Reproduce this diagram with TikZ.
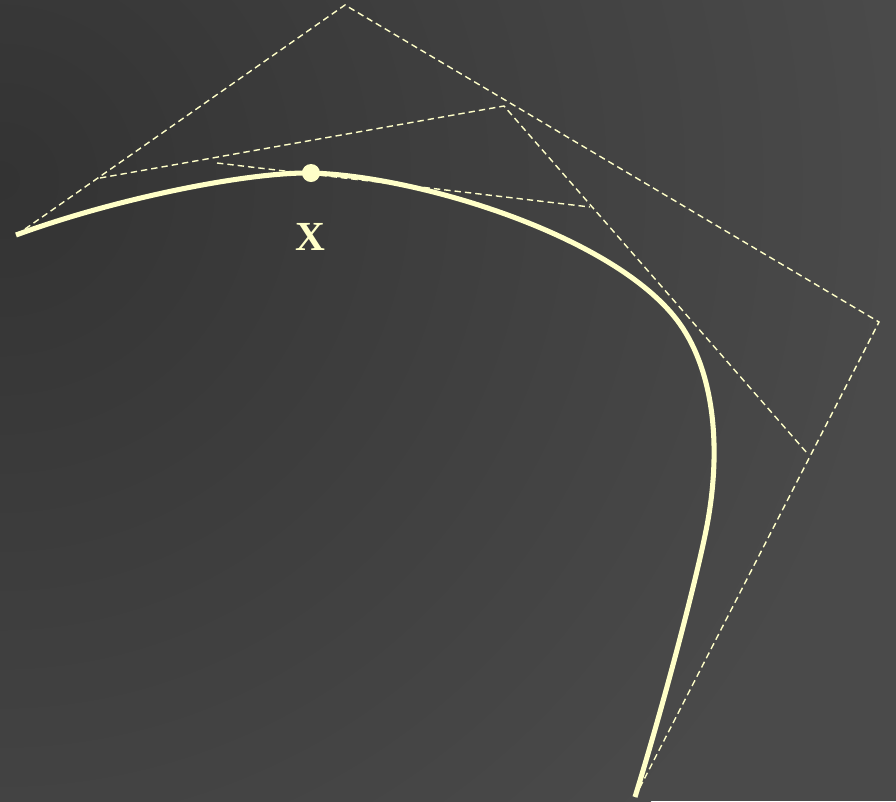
\documentclass[tikz,border=0pt]{standalone}
\usepackage{fontspec}
\setmainfont{Liberation Serif}
\begin{document}
\begin{tikzpicture}[x=0.75pt,y=-0.75pt,
  guide/.style={draw=curvecol, line width=1.05pt, dash pattern=on 4.8pt off 3pt},
  curveline/.style={draw=curvecol, line width=3.8pt},
  lbl/.style={text=curvecol, font=\bfseries\fontsize{31}{31}\selectfont, inner sep=0pt}]
\definecolor{curvecol}{HTML}{FFFFC8}
\definecolor{bgdark}{HTML}{333333}
\definecolor{bglight}{HTML}{4A4A4A}
\fill[bglight] (0,0) rectangle (896,801);
\begin{scope}
\clip (0,0) rectangle (896,801);
\shade[inner color=bgdark, outer color=bglight] (0,180) circle (900);
\end{scope}
\useasboundingbox (0,0) rectangle (896,801);
% control points
\coordinate (P0) at (25,229);
\coordinate (P1) at (345,5);
\coordinate (P2) at (879,322);
\coordinate (P3) at (635,797);
\coordinate (Q0) at (100,178);
\coordinate (Q1) at (504,106);
\coordinate (Q2) at (807,453);
\coordinate (R0) at (217,163);
\coordinate (R1) at (590,207);
\coordinate (X) at (311,173);
\coordinate (S) at (16,235);
\coordinate (E) at (635,797);
% construction lines
\draw[guide] (P0) -- (P1) -- (P2) -- (P3);
\draw[guide] (Q0) -- (Q1) -- (Q2);
\draw[guide] (R0) -- (R1);
% curve
\draw[curveline] (S) .. controls (120,197) and (250,172) .. (X)
  .. controls (420,176) and (613,236) .. (677,320)
  .. controls (712,366) and (722,440) .. (708,520)
  .. controls (700,566) and (665,700) .. (E);
\fill[curvecol] (X) circle (9);
\node[lbl] (xl) at (310,237) {X};
\end{tikzpicture}
\end{document}
